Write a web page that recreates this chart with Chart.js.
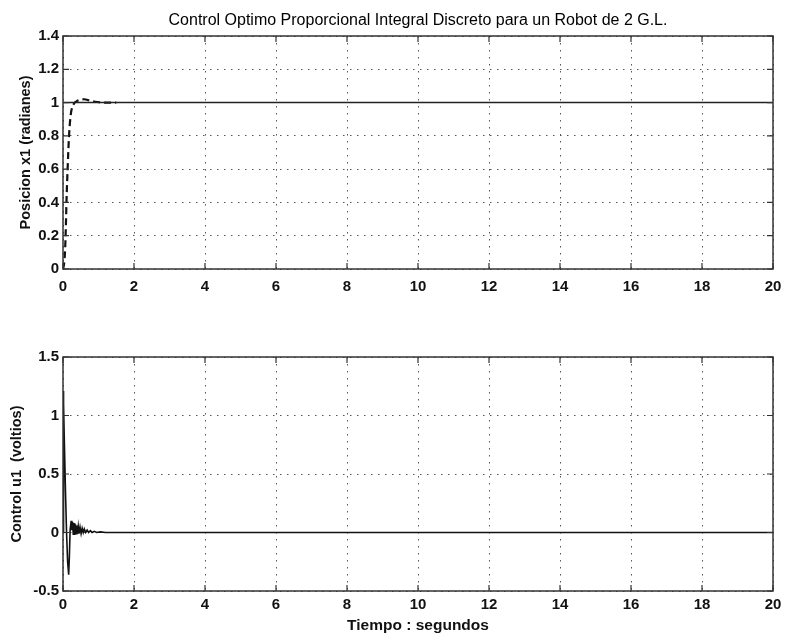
<!DOCTYPE html>
<html>
<head>
<meta charset="utf-8">
<script src="https://cdn.jsdelivr.net/npm/chart.js@4/dist/chart.umd.min.js"></script>
<style>
  html, body { margin: 0; padding: 0; background: #fff; }
  #wrap { position: relative; width: 786px; height: 635px; }
  #c1 { position: absolute; left: 0; top: 0; }
  #c2 { position: absolute; left: 0; top: 300px; }
</style>
</head>
<body>
<div id="wrap">
  <canvas id="c1" width="786" height="300"></canvas>
  <canvas id="c2" width="786" height="335"></canvas>
</div>
<script>
// ---------- data ----------
const chartTitle = 'Control Optimo Proporcional Integral Discreto para un Robot de 2 G.L.';
const xTitle = 'Tiempo : segundos';
const yTitleTop = 'Posicion x1 (radianes)';
const yTitleBottom = 'Control u1  (voltios)';

const xTicks = [0, 2, 4, 6, 8, 10, 12, 14, 16, 18, 20];
const yTicksTop = [0, 0.2, 0.4, 0.6, 0.8, 1, 1.2, 1.4];
const yTicksBottom = [-0.5, 0, 0.5, 1, 1.5];

// reference (solid) for position
const tRef = [0, 20];
const xRef = [1, 1];

// position x1 response (dashed)
const tPos = [0, 0.03, 0.06, 0.08, 0.1, 0.13, 0.17, 0.22, 0.3, 0.4, 0.5, 0.6, 0.75, 0.9, 1.2, 1.5];
const x1Pos = [0, 0.03, 0.12, 0.25, 0.42, 0.6, 0.8, 0.93, 0.99, 1.01, 1.018, 1.02, 1.012, 1.005, 1.0, 1.0];

// control u1
const tU = [0, 0.01, 0.02, 0.04, 0.07, 0.1, 0.13, 0.16, 0.18, 0.2, 0.23, 0.25, 0.27, 0.29, 0.31, 0.33, 0.35, 0.37, 0.39, 0.41, 0.43, 0.45, 0.48, 0.51, 0.54, 0.57, 0.6, 0.64, 0.68, 0.72, 0.77, 0.82, 0.88, 0.95, 1.05, 1.2, 1.5, 2, 20];
const u1 = [0, 1.21, 1.1, 0.75, 0.35, 0.0, -0.25, -0.36, -0.2, 0.02, 0.1, 0.02, 0.09, -0.02, 0.08, -0.02, 0.07, -0.01, 0.06, -0.01, 0.05, -0.01, 0.045, -0.01, 0.035, 0, 0.03, 0, 0.02, 0, 0.015, 0, 0.01, 0, 0.005, 0, 0, 0, 0];

// ---------- helpers ----------
const pts = (xs, ys) => xs.map((x, i) => ({ x: x, y: ys[i] }));
const FONT = "'Liberation Sans', Arial, sans-serif";
const AREA_LEFT = 63, AREA_RIGHT = 773;

const boxPlugin = {
  id: 'box',
  afterDatasetsDraw(chart) {
    const { ctx, chartArea: a, scales } = chart;
    ctx.save();
    ctx.strokeStyle = '#333';
    ctx.lineWidth = 1.5;
    ctx.setLineDash([]);
    ctx.strokeRect(a.left, a.top, a.right - a.left, a.bottom - a.top);
    // inner tick marks
    ctx.lineWidth = 1.2;
    ctx.beginPath();
    scales.x.ticks.forEach(tk => {
      const px = scales.x.getPixelForValue(tk.value);
      ctx.moveTo(px, a.bottom); ctx.lineTo(px, a.bottom - 6);
      ctx.moveTo(px, a.top); ctx.lineTo(px, a.top + 6);
    });
    scales.y.ticks.forEach(tk => {
      const py = scales.y.getPixelForValue(tk.value);
      ctx.moveTo(a.left, py); ctx.lineTo(a.left + 6, py);
      ctx.moveTo(a.right, py); ctx.lineTo(a.right - 6, py);
    });
    ctx.stroke();
    ctx.restore();
  }
};

function xScale(showTitle, height, labelGap) {
  return {
    type: 'linear', min: 0, max: 20,
    afterBuildTicks(s) { s.ticks = xTicks.map(v => ({ value: v })); },
    afterFit(s) { s.height = height; },
    ticks: { color: '#111', font: { family: FONT, size: 15, weight: 'bold' }, padding: 0, maxRotation: 0, autoSkip: false,
             callback: v => String(v) },
    grid: { color: '#555', lineWidth: 1, drawTicks: true, tickLength: labelGap, tickColor: 'rgba(0,0,0,0)' },
    border: { display: false, dash: [1.5, 5.5] },
    title: { display: showTitle, text: xTitle, color: '#111', font: { family: FONT, size: 15.5, weight: 'bold' }, padding: { top: 0, bottom: 0 } }
  };
}

function yScale(min, max, tickVals, title, titlePad) {
  return {
    type: 'linear', min: min, max: max,
    afterBuildTicks(s) { s.ticks = tickVals.map(v => ({ value: v })); },
    afterFit(s) { s.width = AREA_LEFT; },
    ticks: { color: '#111', font: { family: FONT, size: 15, weight: 'bold' }, padding: 4, autoSkip: false,
             callback: v => String(v) },
    grid: { color: '#555', lineWidth: 1, drawTicks: false },
    border: { display: false, dash: [1.5, 5.5] },
    title: { display: true, text: title, color: '#111', font: { family: FONT, size: 14.5, weight: 'bold' }, padding: { top: titlePad, bottom: 0 } }
  };
}

const common = {
  responsive: false,
  animation: false,
  devicePixelRatio: 1,
  elements: { point: { radius: 0 } }
};

new Chart(document.getElementById('c1'), {
  type: 'line',
  data: {
    datasets: [
      { data: pts(tRef, xRef), borderColor: '#222', borderWidth: 1.6, tension: 0 },
      { data: pts(tPos, x1Pos), borderColor: '#111', borderWidth: 2.2, borderDash: [7, 4], cubicInterpolationMode: 'monotone' }
    ]
  },
  options: Object.assign({}, common, {
    layout: { padding: { top: 0, left: 0, right: 786 - AREA_RIGHT, bottom: 0 } },
    plugins: {
      legend: { display: false }, tooltip: { enabled: false },
      title: { display: true, fullSize: false, text: chartTitle, color: '#000', font: { family: FONT, size: 16, weight: 'normal' }, padding: { top: 10.9, bottom: 5.9 } }
    },
    scales: {
      x: xScale(false, 300 - 269, 9),
      y: yScale(0, 1.4, yTicksTop, yTitleTop, 17)
    }
  }),
  plugins: [boxPlugin]
});

new Chart(document.getElementById('c2'), {
  type: 'line',
  data: {
    datasets: [
      { data: pts(tU, u1), borderColor: '#111', borderWidth: 1.6, tension: 0 }
    ]
  },
  options: Object.assign({}, common, {
    layout: { padding: { top: 57, left: 0, right: 786 - AREA_RIGHT, bottom: 0 } },
    plugins: { legend: { display: false }, tooltip: { enabled: false } },
    scales: {
      x: xScale(true, 335 - 291, 5),
      y: yScale(-0.5, 1.5, yTicksBottom, yTitleBottom, 8)
    }
  }),
  plugins: [boxPlugin]
});
</script>
</body>
</html>
